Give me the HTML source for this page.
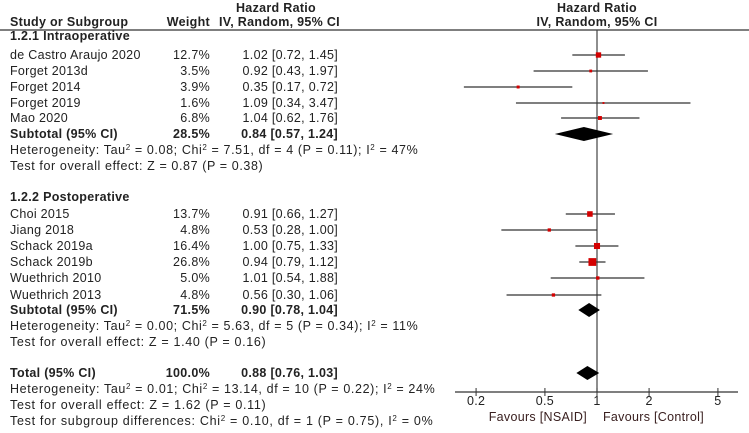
<!DOCTYPE html>
<html><head><meta charset="utf-8"><style>
html,body{margin:0;padding:0;background:#fff;}
svg{display:block;font-family:"Liberation Sans","DejaVu Sans",sans-serif;font-size:12.5px;fill:#222;letter-spacing:0.3px;}
</style></head><body>
<svg id="plot" width="749" height="433" viewBox="0 0 749 433"></svg>
<script>
// data
const studyNames=["de Castro Araujo 2020","Forget 2013d","Forget 2014","Forget 2019","Mao 2020","Choi 2015","Jiang 2018","Schack 2019a","Schack 2019b","Wuethrich 2010","Wuethrich 2013"];
const studyWeights=[12.7,3.5,3.9,1.6,6.8,13.7,4.8,16.4,26.8,5.0,4.8];
const studyHR=[1.02,0.92,0.35,1.09,1.04,0.91,0.53,1.00,0.94,1.01,0.56];
const studyLo=[0.72,0.43,0.17,0.34,0.62,0.66,0.28,0.75,0.79,0.54,0.30];
const studyHi=[1.45,1.97,0.72,3.47,1.76,1.27,1.00,1.33,1.12,1.88,1.06];
const studyRows=[55,71,87,103,118,214,230,246,262,278,295];
const pooledNames=["Subtotal (95% CI)","Subtotal (95% CI)","Total (95% CI)"];
const pooledWeights=["28.5%","71.5%","100.0%"];
const pooledHR=[0.84,0.90,0.88];
const pooledLo=[0.57,0.78,0.76];
const pooledHi=[1.24,1.04,1.03];
const pooledRows=[134,310,373];
const tickValues=[0.2,0.5,1,2,5];
const tickLabels=["0.2","0.5","1","2","5"];

const NS="http://www.w3.org/2000/svg";
const svg=document.getElementById('plot');
const X=v=>597+173*Math.log10(v);
function el(tag,attrs,parent){const e=document.createElementNS(NS,tag);for(const k in attrs)e.setAttribute(k,attrs[k]);(parent||svg).appendChild(e);return e;}
function txt(x,y,s,opt){opt=opt||{};const t=el('text',{x:x,y:y});if(opt.anchor)t.setAttribute('text-anchor',opt.anchor);if(opt.bold)t.setAttribute('font-weight','bold');if(opt.len){t.setAttribute('textLength',opt.len);t.setAttribute('lengthAdjust','spacing');}if(opt.fill)t.setAttribute('fill',opt.fill);t.innerHTML=s;return t;}

let h;
h=txt(276,12,"Hazard Ratio",{anchor:'middle',bold:true});


h=txt(10,26,"Study or Subgroup",{bold:true});


h=txt(210,26,"Weight",{anchor:'end',bold:true});


h=txt(219,26,"IV, Random, 95% CI",{bold:true});


h=txt(597,12,"Hazard Ratio",{anchor:'middle',bold:true});


h=txt(597,26,"IV, Random, 95% CI",{anchor:'middle',bold:true});


let ln=el('line',{x1:0,y1:30,x2:749,y2:30,stroke:'#333','stroke-width':1.2});



ln=el('line',{x1:X(1),y1:30,x2:X(1),y2:392,stroke:'#444','stroke-width':1.2});



h=txt(10,40,"1.2.1 Intraoperative",{bold:true});


h=txt(10,201,"1.2.2 Postoperative",{bold:true});



const f2=v=>v.toFixed(2);
for(let i=0;i<studyNames.length;i++){
  const y=studyRows[i];
  const g=el('g',{});
  
  
  txt(10,y+4,studyNames[i]);g.appendChild(svg.lastChild);
  txt(210,y+4,studyWeights[i].toFixed(1)+"%",{anchor:'end'});g.appendChild(svg.lastChild);
  txt(338,y+4,f2(studyHR[i])+" ["+f2(studyLo[i])+", "+f2(studyHi[i])+"]",{anchor:'end'});g.appendChild(svg.lastChild);
  const ci=el('line',{x1:X(studyLo[i]),y1:y,x2:X(studyHi[i]),y2:y,stroke:'#333','stroke-width':1.2},g);
  
  
  const s=Math.max(1.5,1.5*Math.sqrt(studyWeights[i]));
  const r=el('rect',{x:X(studyHR[i])-s/2,y:y-s/2,width:s,height:s,fill:'#d40000'},g);
  
  
}
for(let i=0;i<pooledNames.length;i++){
  const y=pooledRows[i];
  const g=el('g',{});
  
  
  txt(10,y+4,pooledNames[i],{bold:true});g.appendChild(svg.lastChild);
  txt(210,y+4,pooledWeights[i],{anchor:'end',bold:true});g.appendChild(svg.lastChild);
  txt(338,y+4,f2(pooledHR[i])+" ["+f2(pooledLo[i])+", "+f2(pooledHi[i])+"]",{anchor:'end',bold:true});g.appendChild(svg.lastChild);
  const d=el('polygon',{points:`${X(pooledLo[i])},${y} ${X(pooledHR[i])},${y-7} ${X(pooledHi[i])},${y} ${X(pooledHR[i])},${y+7}`,fill:'#000'},g);
  
  
}
const sup="<tspan dy='-4' font-size='8'>2</tspan><tspan dy='4'>";
const stats=[
 [154,"Heterogeneity: Tau"+sup+" = 0.08; Chi</tspan>"+sup+" = 7.51, df = 4 (P = 0.11); I</tspan>"+sup+" = 47%</tspan>",408],
 [170,"Test for overall effect: Z = 0.87 (P = 0.38)",253],
 [330,"Heterogeneity: Tau"+sup+" = 0.00; Chi</tspan>"+sup+" = 5.63, df = 5 (P = 0.34); I</tspan>"+sup+" = 11%</tspan>",408],
 [346,"Test for overall effect: Z = 1.40 (P = 0.16)",256],
 [393,"Heterogeneity: Tau"+sup+" = 0.01; Chi</tspan>"+sup+" = 13.14, df = 10 (P = 0.22); I</tspan>"+sup+" = 24%</tspan>",425],
 [409,"Test for overall effect: Z = 1.62 (P = 0.11)",256],
 [425,"Test for subgroup differences: Chi"+sup+" = 0.10, df = 1 (P = 0.75), I</tspan>"+sup+" = 0%</tspan>",423]
];
for(const s of stats){const t=txt(10,s[0],s[1],{len:s[2]});

}

ln=el('line',{x1:455,y1:392,x2:738,y2:392,stroke:'#333','stroke-width':1.2});


for(let i=0;i<tickValues.length;i++){
  const x=X(tickValues[i]);
  const tk=el('line',{x1:x,y1:388,x2:x,y2:396,stroke:'#333','stroke-width':1});
  
  
  const t=txt(x,405,tickLabels[i],{anchor:'middle'});
  
  
}
h=txt(587,421,"Favours [NSAID]",{anchor:'end',fill:'#3a2020'});


h=txt(603,421,"Favours [Control]",{fill:'#3a2020'});


</script>
</body></html>
